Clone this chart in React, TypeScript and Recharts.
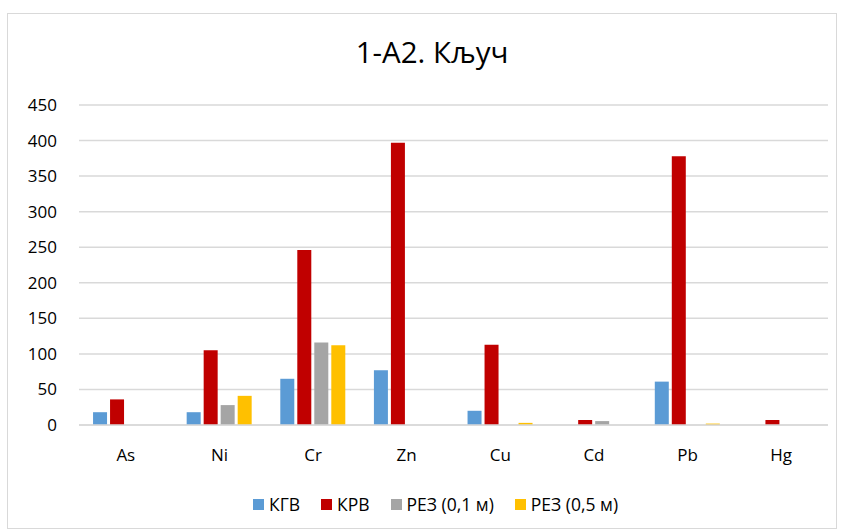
import React from "react";
import { BarChart, Bar, XAxis, YAxis, CartesianGrid } from "recharts";

const categories = ["As", "Ni", "Cr", "Zn", "Cu", "Cd", "Pb", "Hg"];
const kgv = [18, 18, 65, 77, 20, 0, 61, 0];
const krv = [36, 105, 246, 397, 113, 7, 378, 7];
const rez01 = [0, 28, 116, 0, 0, 5.5, 0, 0];
const rez05 = [0, 41, 112, 0, 3, 0, 2, 0];
const yTicks = [0, 50, 100, 150, 200, 250, 300, 350, 400, 450];
const seriesNames = ["КГВ", "КРВ", "РЕЗ (0,1 м)", "РЕЗ (0,5 м)"];
const seriesKeys = ["kgv", "krv", "rez01", "rez05"];
const seriesColors = ["#5B9BD5", "#C00000", "#A5A5A5", "#FFC000"];
const title = "1-A2. Кључ";

const data = categories.map((c, i) => ({
  name: c,
  kgv: kgv[i],
  krv: krv[i],
  rez01: rez01[i],
  rez05: rez05[i],
}));

const FONT = "'Open Sans', 'Noto Sans', sans-serif";

export default function App() {
  return (
    <div style={{ position: "absolute", left: 0, top: 0, width: 844, height: 531, background: "#fff", fontFamily: FONT }}>
      <div style={{ position: "absolute", left: 7, top: 13, width: 830, height: 516, border: "1px solid #d9d9d9", boxSizing: "border-box" }} />
      <div style={{ position: "absolute", left: 0, width: 864, top: 32, textAlign: "center", fontSize: 29.5, color: "#000", lineHeight: "40px" }}>
        {title}
      </div>
      <div style={{ position: "absolute", left: 0, top: 0 }}>
        <BarChart
          width={844}
          height={531}
          data={data}
          margin={{ top: 105, right: 16, bottom: 76, left: 0 }}
          barCategoryGap="15%"
          barGap={3}
        >
          <CartesianGrid vertical={false} stroke="#d9d9d9" strokeWidth={1.5} />
          <XAxis
            dataKey="name"
            height={30}
            axisLine={{ stroke: "#d9d9d9", strokeWidth: 1.5 }}
            tickLine={false}
            tickSize={0}
            tickMargin={24}
            tick={{ fill: "#000", fontSize: 17, fontFamily: FONT }}
          />
          <YAxis
            width={79}
            domain={[0, 450]}
            ticks={yTicks}
            axisLine={false}
            tickLine={false}
            tickSize={0}
            tickMargin={22}
            interval={0}
            tick={{ fill: "#000", fontSize: 17, fontFamily: FONT }}
          />
          {seriesKeys.map((k, i) => (
            <Bar key={k} dataKey={k} name={seriesNames[i]} fill={seriesColors[i]} isAnimationActive={false} />
          ))}
        </BarChart>
      </div>
      <div style={{ position: "absolute", left: 0, width: 871, top: 492, display: "flex", justifyContent: "center", fontSize: 17.5, color: "#000", lineHeight: "24px" }}>
        {seriesNames.map((n, i) => (
          <div key={n} style={{ display: "flex", alignItems: "center", marginRight: i < 3 ? 21 : 0 }}>
            <span style={{ width: 11, height: 11, background: seriesColors[i], display: "inline-block", marginRight: 5 }} />
            <span>{n}</span>
          </div>
        ))}
      </div>
    </div>
  );
}
